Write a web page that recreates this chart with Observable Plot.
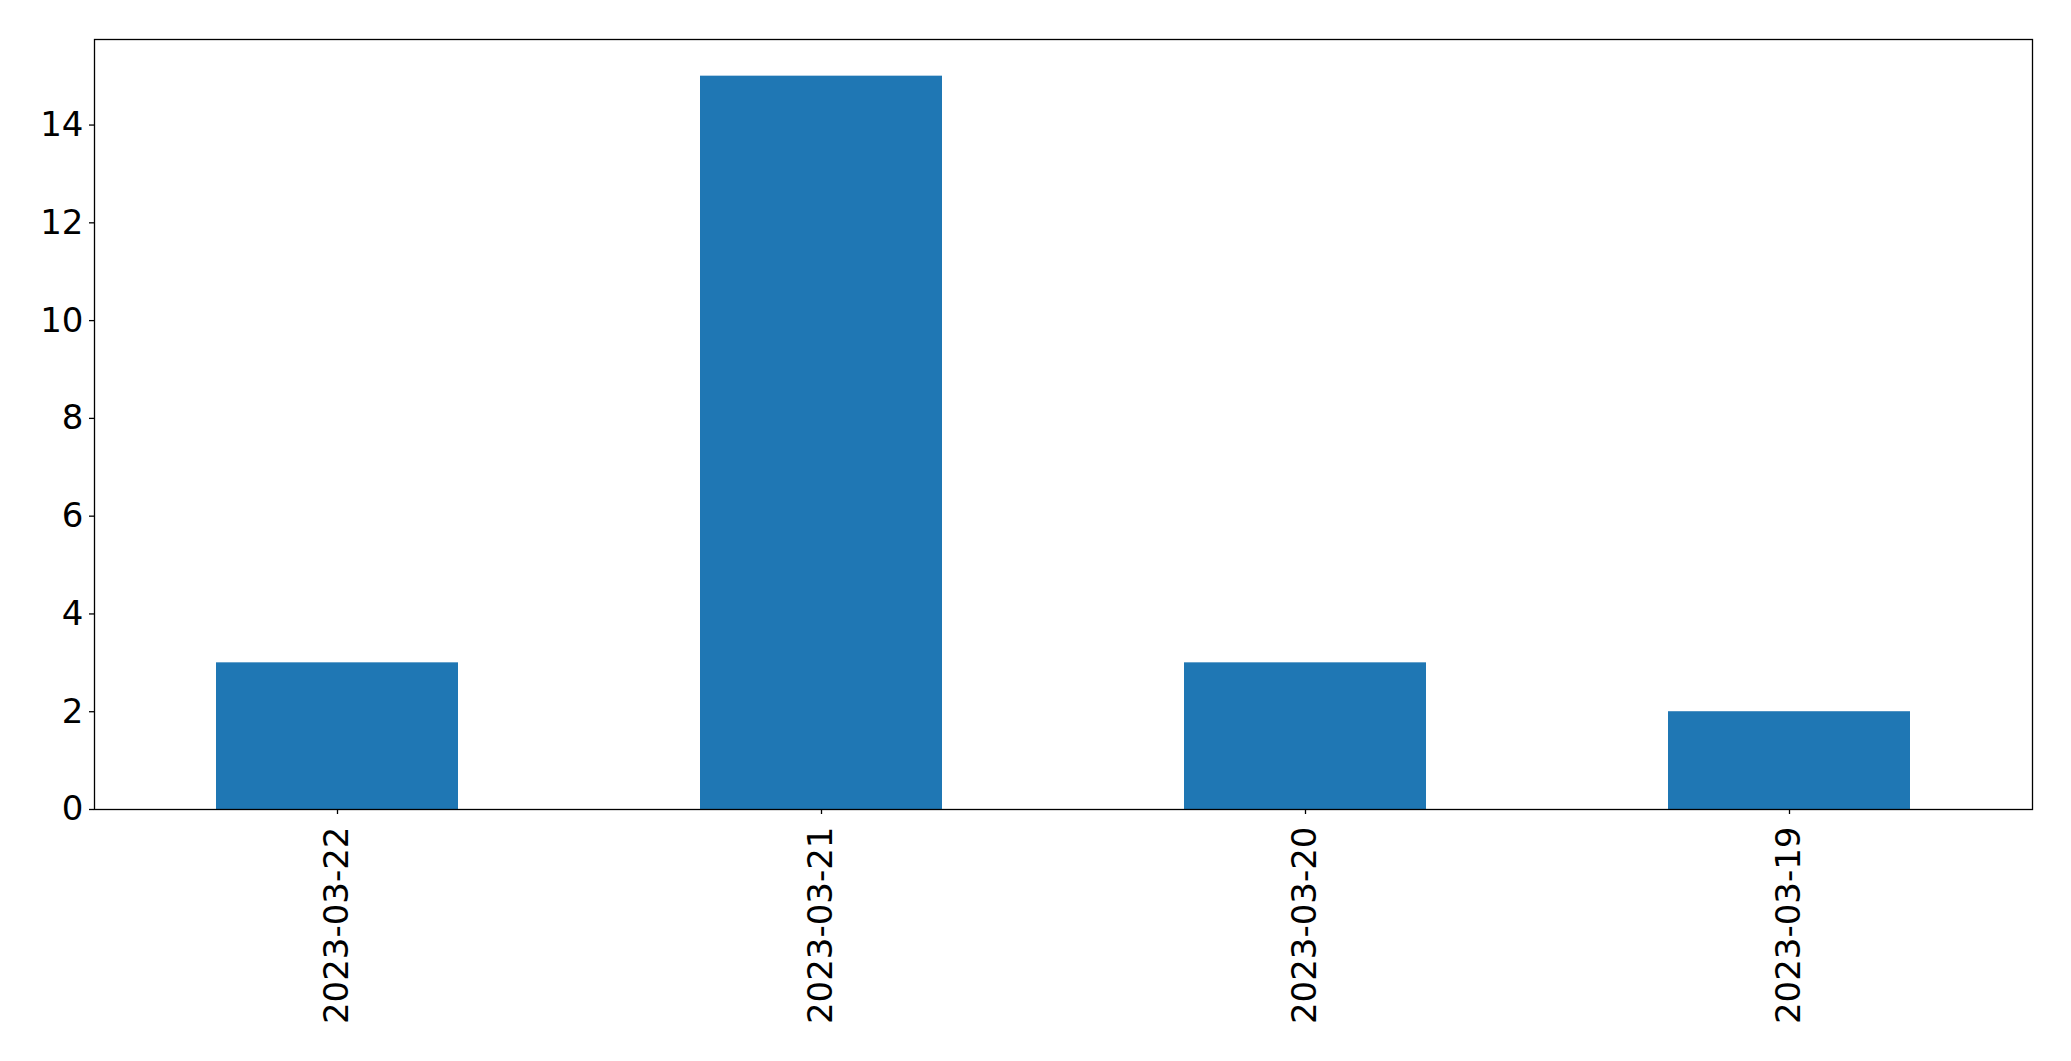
<!DOCTYPE html>
<html>
<head>
<meta charset="utf-8">
<script src="https://cdn.jsdelivr.net/npm/d3@7"></script>
<script src="https://cdn.jsdelivr.net/npm/@observablehq/plot@0.6"></script>
<style>
  html, body { margin: 0; padding: 0; background: #fff; }
  #chart svg { display: block; }
</style>
</head>
<body>
<div id="chart"></div>
<script>
const dates = ["2023-03-22", "2023-03-21", "2023-03-20", "2023-03-19"];
const counts = [3, 15, 3, 2];
const yTicks = [0, 2, 4, 6, 8, 10, 12, 14];

const data = dates.map((d, i) => ({date: d, count: counts[i]}));

const chart = Plot.plot({
  width: 2071,
  height: 1061,
  marginLeft: 94,
  marginRight: 39,
  marginTop: 39,
  marginBottom: 252,
  style: {fontFamily: "DejaVu Sans", fontSize: "34px", color: "#000", background: "#fff"},
  x: {domain: dates, paddingInner: 0.5, paddingOuter: 0.25, label: null},
  y: {domain: [0, 15.75], label: null},
  marks: [
    Plot.barY(data, {x: "date", y: "count", fill: "#1f77b4"}),
    Plot.axisY({ticks: yTicks, tickSize: 5, tickPadding: 6, tickFormat: d => String(d), fontSize: 34, label: null, strokeWidth: 1.3}),
    Plot.axisX({tickSize: 5, tickPadding: 12, tickRotate: -90, fontSize: 34, label: null, strokeWidth: 1.3}),
    Plot.frame({stroke: "#000", strokeWidth: 1.3})
  ]
});
document.getElementById("chart").appendChild(chart);
</script>
</body>
</html>
